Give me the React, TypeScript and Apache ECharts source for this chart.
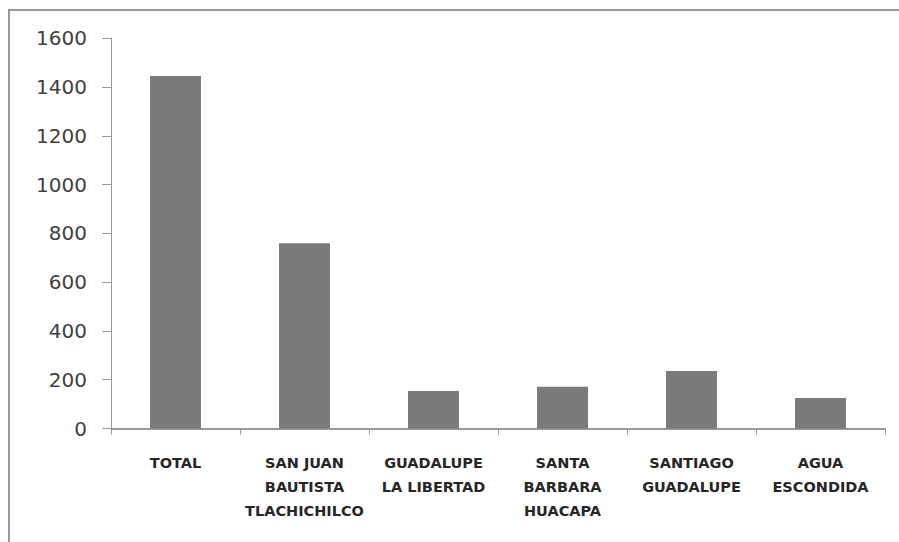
import React, { useEffect, useRef } from "react";
import * as echarts from "echarts";

const categories = [
  "TOTAL",
  "SAN JUAN\nBAUTISTA\nTLACHICHILCO",
  "GUADALUPE\nLA LIBERTAD",
  "SANTA\nBARBARA\nHUACAPA",
  "SANTIAGO\nGUADALUPE",
  "AGUA\nESCONDIDA",
];
const values = [1445, 760, 154, 171, 236, 125];
const yTicks = { min: 0, max: 1600, interval: 200 };

export default function App() {
  const ref = useRef<HTMLDivElement>(null);
  useEffect(() => {
    document.body.style.margin = "0";
    const chart = echarts.init(ref.current!, null, { renderer: "svg" });
    chart.setOption({
      animation: false,
      backgroundColor: "#ffffff",
      graphic: [
        {
          type: "rect",
          shape: { x: 9, y: 10, width: 1000, height: 1000 },
          style: { fill: "none", stroke: "#999999", lineWidth: 2 },
          silent: true,
        },
      ],
      grid: { left: 111, right: 14, top: 38.3, bottom: 113.5, containLabel: false },
      xAxis: {
        type: "category",
        data: categories,
        axisLine: { lineStyle: { color: "#999999", width: 2 } },
        axisTick: { show: true, length: 6, lineStyle: { color: "#999999", width: 1 } },
        axisLabel: {
          interval: 0,
          margin: 22,
          lineHeight: 24.3,
          fontFamily: "DejaVu Sans",
          fontWeight: "bold",
          fontSize: 14.5,
          color: "#262626",
          align: "center",
        },
        splitLine: { show: false },
      },
      yAxis: {
        type: "value",
        min: yTicks.min,
        max: yTicks.max,
        interval: yTicks.interval,
        axisLine: { show: true, lineStyle: { color: "#999999", width: 1 } },
        axisTick: { show: true, length: 9, lineStyle: { color: "#999999", width: 1 } },
        axisLabel: {
          margin: 24,
          fontFamily: "DejaVu Sans",
          fontSize: 20,
          color: "#404040",
          formatter: (v: number) => String(v),
        },
        splitLine: { show: false },
      },
      series: [
        {
          type: "bar",
          data: values,
          barWidth: "39.5%",
          itemStyle: { color: "#7a7a7a" },
        },
      ],
    });
    return () => chart.dispose();
  }, []);
  return <div ref={ref} style={{ width: 899, height: 542 }} />;
}
